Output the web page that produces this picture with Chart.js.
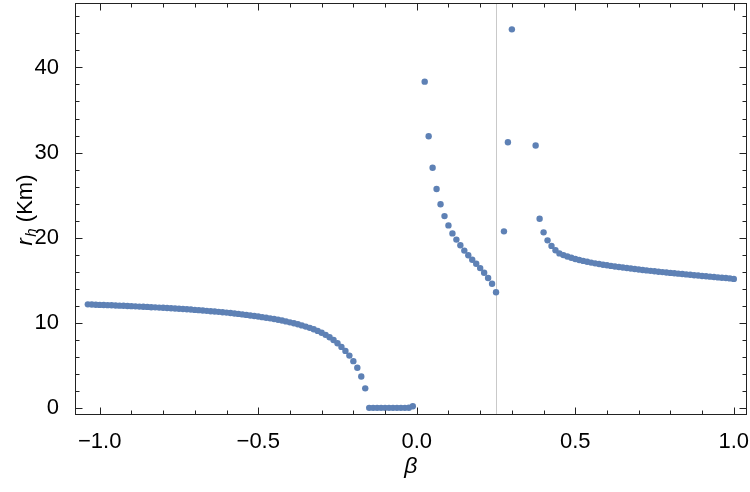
<!DOCTYPE html>
<html>
<head>
<meta charset="utf-8">
<script src="https://cdn.jsdelivr.net/npm/chart.js@4/dist/chart.umd.min.js"></script>
<style>
  html, body { margin: 0; padding: 0; background: #fff; }
  #c { display: block; }
</style>
</head>
<body>
<canvas id="c" width="750" height="492" style="width:750px;height:492px"></canvas>
<script>
// ---- data ----
const leftBeta = [-1.0375, -1.025, -1.0125, -1.0, -0.9875, -0.975, -0.9625, -0.95, -0.9375, -0.925,
  -0.9125, -0.9, -0.8875, -0.875, -0.8625, -0.85, -0.8375, -0.825, -0.8125, -0.8,
  -0.7875, -0.775, -0.7625, -0.75, -0.7375, -0.725, -0.7125, -0.7, -0.6875, -0.675,
  -0.6625, -0.65, -0.6375, -0.625, -0.6125, -0.6, -0.5875, -0.575, -0.5625, -0.55,
  -0.5375, -0.525, -0.5125, -0.5, -0.4875, -0.475, -0.4625, -0.45, -0.4375, -0.425,
  -0.4125, -0.4, -0.3875, -0.375, -0.3625, -0.35, -0.3375, -0.325, -0.3125, -0.3,
  -0.2875, -0.275, -0.2625, -0.25, -0.2375, -0.225, -0.2125, -0.2, -0.1875, -0.175, -0.1625];
const leftRh = [12.16, 12.14, 12.12, 12.10, 12.09, 12.07, 12.05, 12.03, 12.01, 11.99,
  11.97, 11.95, 11.93, 11.90, 11.88, 11.86, 11.83, 11.81, 11.78, 11.76,
  11.73, 11.70, 11.67, 11.64, 11.61, 11.58, 11.55, 11.51, 11.48, 11.44,
  11.40, 11.36, 11.32, 11.28, 11.24, 11.19, 11.14, 11.09, 11.04, 10.98,
  10.92, 10.86, 10.80, 10.73, 10.66, 10.59, 10.52, 10.44, 10.35, 10.26,
  10.16, 10.05, 9.94, 9.82, 9.69, 9.55, 9.40, 9.23, 9.04, 8.82,
  8.58, 8.30, 7.98, 7.60, 7.16, 6.69, 6.14, 5.49, 4.71, 3.69, 2.29];

const flatBeta = [-0.15, -0.1375, -0.125, -0.1125, -0.1, -0.0875, -0.075, -0.0625, -0.05, -0.0375, -0.025, -0.0125];
const flatRh   = [0, 0, 0, 0, 0, 0, 0, 0, 0, 0, 0.02, 0.18];

const midBeta = [0.025, 0.0375, 0.05, 0.0625, 0.075, 0.0875, 0.1, 0.1125, 0.125, 0.1375,
  0.15, 0.1625, 0.175, 0.1875, 0.2, 0.2125, 0.225, 0.2375, 0.25, 0.275, 0.2875, 0.3];
const midRh = [38.33, 31.91, 28.21, 25.72, 23.93, 22.53, 21.44, 20.50, 19.77, 19.10,
  18.48, 17.93, 17.40, 16.93, 16.42, 15.88, 15.25, 14.59, 13.58, 20.74, 31.21, 44.48];

const rightBeta = [0.375, 0.3875, 0.4, 0.4125, 0.425, 0.4375, 0.45, 0.4625, 0.475, 0.4875,
  0.5, 0.5125, 0.525, 0.5375, 0.55, 0.5625, 0.575, 0.5875, 0.6, 0.6125,
  0.625, 0.6375, 0.65, 0.6625, 0.675, 0.6875, 0.7, 0.7125, 0.725, 0.7375,
  0.75, 0.7625, 0.775, 0.7875, 0.8, 0.8125, 0.825, 0.8375, 0.85, 0.8625,
  0.875, 0.8875, 0.9, 0.9125, 0.925, 0.9375, 0.95, 0.9625, 0.975, 0.9875, 1.0];
const rightRh = [30.82, 22.22, 20.62, 19.68, 19.03, 18.52, 18.15, 17.95, 17.78, 17.63,
  17.50, 17.38, 17.27, 17.17, 17.07, 16.98, 16.90, 16.82, 16.75, 16.68,
  16.61, 16.55, 16.49, 16.43, 16.37, 16.31, 16.25, 16.20, 16.15, 16.10,
  16.05, 16.00, 15.95, 15.91, 15.86, 15.82, 15.77, 15.73, 15.68, 15.64,
  15.59, 15.55, 15.50, 15.46, 15.42, 15.37, 15.33, 15.29, 15.25, 15.21, 15.15];

const refLineBeta = 0.25;

const xTickValues  = [-1.0, -0.5, 0.0, 0.5, 1.0];
const xMinorValues = [-1.0, -0.9, -0.8, -0.7, -0.6, -0.5, -0.4, -0.3, -0.2, -0.1, 0.0,
                       0.1, 0.2, 0.3, 0.4, 0.5, 0.6, 0.7, 0.8, 0.9, 1.0];
const yTickValues  = [0, 10, 20, 30, 40];
const yMinorValues = [0, 2, 4, 6, 8, 10, 12, 14, 16, 18, 20, 22, 24, 26, 28, 30, 32, 34, 36, 38, 40, 42, 44, 46];

const xTitle = 'β';
const yTitleMain = 'r';
const yTitleSub = 'h';
const yTitleRest = ' (Km)';

// ---- build chart ----
const FONT = "'Liberation Sans', Arial, Helvetica, sans-serif";
const POINT_COLOR = 'rgb(94,129,181)';
const FRAME_COLOR = '#222';

function pairs(xs, ys) { return xs.map((v, i) => ({ x: v, y: ys[i] })); }
const points = [].concat(pairs(leftBeta, leftRh), pairs(flatBeta, flatRh),
                         pairs(midBeta, midRh), pairs(rightBeta, rightRh));

const fmtX = v => (v < 0 ? '\u2212' : '') + Math.abs(v).toFixed(1);

const framePlugin = {
  id: 'mmaFrame',
  beforeDatasetsDraw(chart) {
    const { ctx, chartArea: a, scales: { x } } = chart;
    const px = Math.round(x.getPixelForValue(refLineBeta)) + 0.5;
    ctx.save();
    ctx.strokeStyle = '#c9c9c9';
    ctx.lineWidth = 1;
    ctx.beginPath();
    ctx.moveTo(px, a.top);
    ctx.lineTo(px, a.bottom);
    ctx.stroke();
    ctx.restore();
  },
  afterDraw(chart) {
    const { ctx, chartArea: a, scales: { x, y } } = chart;
    const L = Math.round(a.left) + 0.5, R = Math.round(a.right) - 0.5;
    const T = Math.round(a.top) + 0.5, B = Math.round(a.bottom) - 0.5;
    ctx.save();
    ctx.strokeStyle = FRAME_COLOR;
    ctx.lineWidth = 1;
    ctx.strokeRect(L, T, R - L, B - T);
    ctx.beginPath();
    const major = 7, minor = 4;
    xMinorValues.forEach(v => {
      const p = Math.round(x.getPixelForValue(v)) + 0.5;
      const len = xTickValues.some(t => Math.abs(t - v) < 1e-9) ? major : minor;
      ctx.moveTo(p, B); ctx.lineTo(p, B - len);
      ctx.moveTo(p, T); ctx.lineTo(p, T + len);
    });
    yMinorValues.forEach(v => {
      const p = Math.round(y.getPixelForValue(v)) + 0.5;
      const len = yTickValues.includes(v) ? major : minor;
      ctx.moveTo(L, p); ctx.lineTo(L + len, p);
      ctx.moveTo(R, p); ctx.lineTo(R - len, p);
    });
    ctx.stroke();

    // y-axis title with subscript
    const cx = 24, cy = 210;
    const fMain = 'italic 22px ' + FONT, fSub = 'italic 15px ' + FONT, fRest = '22px ' + FONT;
    const subGap = 1.5;
    ctx.font = fMain; const w1 = ctx.measureText(yTitleMain).width + subGap;
    ctx.font = fSub;  const w2 = ctx.measureText(yTitleSub).width;
    ctx.font = fRest; const w3 = ctx.measureText(yTitleRest).width;
    const total = w1 + w2 + w3;
    ctx.translate(cx, cy);
    ctx.rotate(-Math.PI / 2);
    ctx.fillStyle = '#000';
    ctx.textBaseline = 'alphabetic';
    ctx.textAlign = 'left';
    let pos = -total / 2;
    const base = 8;
    ctx.font = fMain; ctx.fillText(yTitleMain, pos, base); pos += w1;
    ctx.font = fSub;  ctx.fillText(yTitleSub, pos, base + 4); pos += w2;
    ctx.font = fRest; ctx.fillText(yTitleRest, pos, base);
    ctx.restore();
  }
};

new Chart(document.getElementById('c'), {
  type: 'scatter',
  data: {
    datasets: [{
      data: points,
      pointRadius: 3.2,
      pointHoverRadius: 3.2,
      pointBackgroundColor: POINT_COLOR,
      pointBorderWidth: 0,
      showLine: false
    }]
  },
  options: {
    responsive: false,
    animation: false,
    events: [],
    layout: { padding: { top: 0, right: 2, left: 0, bottom: 0 } },
    plugins: { legend: { display: false }, tooltip: { enabled: false } },
    scales: {
      x: {
        type: 'linear',
        min: -1.078, max: 1.041,
        grid: { display: false },
        border: { display: false },
        afterBuildTicks: s => { s.ticks = xTickValues.map(v => ({ value: v })); },
        afterFit: s => { s.height = 77; s.paddingLeft = 0; s.paddingRight = 0; },
        ticks: {
          callback: v => fmtX(v),
          color: '#000',
          font: { family: FONT, size: 22 },
          padding: 6,
          maxRotation: 0,
          autoSkip: false
        },
        title: {
          display: true, text: xTitle, color: '#000',
          font: { family: FONT, size: 23, style: 'italic' },
          padding: { top: 0, bottom: 12 }
        }
      },
      y: {
        type: 'linear',
        min: -0.84, max: 47.55,
        grid: { display: false },
        border: { display: false },
        afterBuildTicks: s => { s.ticks = yTickValues.map(v => ({ value: v })); },
        afterFit: s => { s.width = 75; s.paddingTop = 0; s.paddingBottom = 0; },
        ticks: {
          callback: v => String(v),
          color: '#000',
          font: { family: FONT, size: 22 },
          padding: 8,
          autoSkip: false
        }
      }
    }
  },
  plugins: [framePlugin]
});
</script>
</body>
</html>
